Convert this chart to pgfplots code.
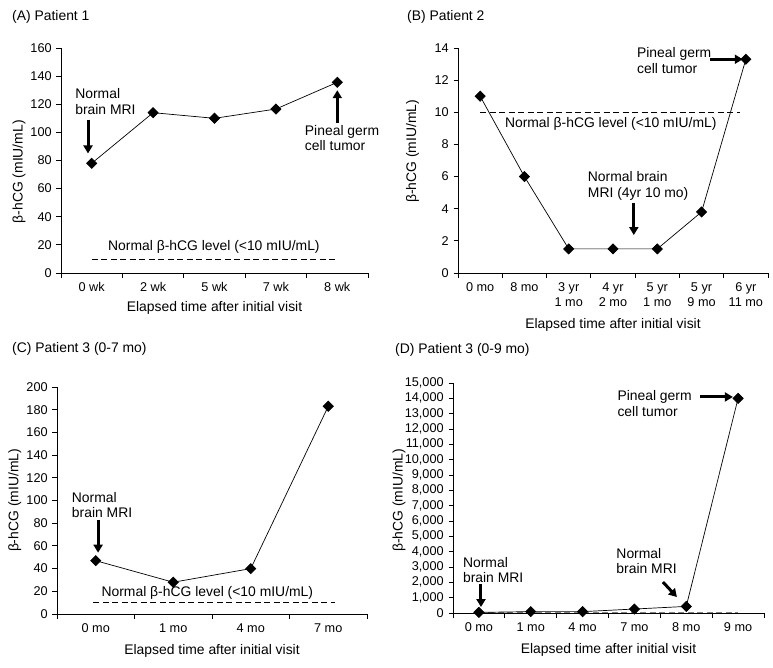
\documentclass[border=0pt]{standalone}
\usepackage{fontspec}
\setmainfont{Liberation Sans}
\usepackage{pgfplots}
\pgfplotsset{compat=1.18}
\usetikzlibrary{arrows.meta}
\pgfplotsset{
  base/.style={
    scale only axis, clip=false,
    axis lines=left, axis line style={-, line width=0.9bp},
    tick align=outside,
    major x tick style={draw=none},
    minor x tick style={black, line width=0.9bp},
    y tick style={black, line width=0.9bp},
    major tick length=4.5bp, minor tick length=5bp,
    xmin=0, ymin=0,
    /pgf/number format/assume math mode=true,
    xticklabel style={align=center, font=\fontsize{12.7bp}{15.7bp}\selectfont},
    yticklabel style={font=\fontsize{12.7bp}{15.7bp}\selectfont},
    label style={font=\fontsize{13.9bp}{15.7bp}\selectfont},
    ylabel={β-hCG (mIU/mL)},
    xlabel={Elapsed time after initial visit},
  },
  ylpos/.style 2 args={ylabel style={at={(axis description cs:#1,#2)}, anchor=south, inner sep=0pt}},
  ser/.style={black, line width=0.7bp, mark=square*, mark size=3.6bp, mark options={solid, rotate=45}},
  nl/.style={black, line width=0.8bp, dash pattern=on 6bp off 3.5bp},
}
\tikzset{bigarrow/.style={line width=3bp, -{Triangle[length=8bp,width=9bp]}},
  ann/.style={align=left, font=\fontsize{13.9bp}{15.7bp}\selectfont, inner sep=0pt}}
\begin{document}
\begin{tikzpicture}
\useasboundingbox (0,0) rectangle (773bp,-668bp);
\fontsize{13.9bp}{15.7bp}\selectfont
\node[anchor=west, inner sep=0pt] at (12bp,-17bp) {(A) Patient 1};
\node[anchor=west, inner sep=0pt] at (407bp,-17bp) {(B) Patient 2};
\node[anchor=west, inner sep=0pt] at (12bp,-349bp) {(C) Patient 3 (0-7 mo)};
\node[anchor=west, inner sep=0pt] at (395bp,-350bp) {(D) Patient 3 (0-9 mo)};

% (A)
\begin{axis}[base, at={(61bp,-273bp)}, anchor=south west, width=307bp, height=225bp,
  xmax=5, ymax=160, ytick={0,20,...,160}, minor xtick={0,1,...,5},
  ylpos={-0.115}{0.45},
  xtick={0.5,1.5,2.5,3.5,4.5}, xticklabels={0 wk,2 wk,5 wk,7 wk,8 wk}]
\addplot[nl] coordinates {(0.5,10) (4.46,10)};
\addplot[ser] coordinates {(0.5,78) (1.5,114) (2.5,110) (3.5,116.6) (4.5,135.6)};
\node[ann, anchor=west] at (axis cs:0.23,122) {Normal\\brain MRI};
\draw[bigarrow] (axis cs:0.44,109) -- (axis cs:0.44,85);
\node[ann, anchor=west] at (axis cs:3.97,96) {Pineal germ\\cell tumor};
\draw[bigarrow] (axis cs:4.5,106.5) -- (axis cs:4.5,130);
\node[ann] at (axis cs:2.49,18.5) {Normal β-hCG level (<10 mIU/mL)};
\end{axis}

% (B)
\begin{axis}[base, at={(458bp,-273bp)}, anchor=south west, width=310bp, height=225bp,
  xmax=7, ymax=14, ytick={0,2,...,14}, minor xtick={0,1,...,7},
  xlabel shift=2bp, ylpos={-0.125}{0.54},
  xtick={0.5,1.5,2.5,3.5,4.5,5.5,6.5},
  xticklabels={0 mo,8 mo,3 yr\\1 mo,4 yr\\2 mo,5 yr\\1 mo,5 yr\\9 mo,6 yr\\11 mo}]
\addplot[nl] coordinates {(0.5,10) (6.37,10)};
\addplot[ser] coordinates {(0.5,11.0) (1.5,6.0) (2.5,1.5) (3.5,1.5) (4.5,1.5) (5.5,3.8) (6.5,13.3)};
\node[ann, anchor=west] at (axis cs:4.04,13.22) {Pineal germ\\cell tumor};
\draw[bigarrow] (axis cs:5.69,13.3) -- (axis cs:6.43,13.3);
\node[ann] at (axis cs:3.45,9.25) {Normal β-hCG level (<10 mIU/mL)};
\node[ann, anchor=west] at (axis cs:2.93,5.41) {Normal brain\\MRI (4yr 10 mo)};
\draw[bigarrow] (axis cs:3.97,4.36) -- (axis cs:3.97,2.36);
\end{axis}

% (C)
\begin{axis}[base, at={(57bp,-614bp)}, anchor=south west, width=310bp, height=227bp,
  xmax=4, ymax=200, ytick={0,20,...,200}, minor xtick={0,1,...,4},
  ylpos={-0.115}{0.5}, xlabel shift=3bp,
  xtick={0.5,1.5,2.5,3.5}, xticklabels={0 mo,1 mo,4 mo,7 mo}]
\addplot[nl] coordinates {(0.47,10) (3.59,10)};
\addplot[ser] coordinates {(0.5,47) (1.5,28) (2.5,40) (3.5,183)};
\node[ann, anchor=west] at (axis cs:0.19,96) {Normal\\brain MRI};
\draw[bigarrow] (axis cs:0.53,83) -- (axis cs:0.53,54);
\node[ann] at (axis cs:1.94,18.5) {Normal β-hCG level (<10 mIU/mL)};
\end{axis}

% (D)
\begin{axis}[base, at={(453bp,-613bp)}, anchor=south west, width=311bp, height=230bp,
  xmax=6, ymax=15000, ytick={0,1000,...,15000}, minor xtick={0,1,...,6},
  scaled y ticks=false, ylpos={-0.152}{0.49}, xlabel shift=3bp,
  yticklabel style={/pgf/number format/1000 sep={,}},
  xtick={0.5,1.5,2.5,3.5,4.5,5.5}, xticklabels={0 mo,1 mo,4 mo,7 mo,8 mo,9 mo}]
\addplot[nl, gray] coordinates {(0.5,10) (5.5,10)};
\addplot[ser] coordinates {(0.5,40) (1.5,90) (2.5,90) (3.5,260) (4.5,430) (5.5,14000)};
\node[ann, anchor=west] at (axis cs:3.17,13670) {Pineal germ\\cell tumor};
\draw[bigarrow] (axis cs:4.77,14090) -- (axis cs:5.4,14090);
\node[ann, anchor=west] at (axis cs:0.19,2800) {Normal\\brain MRI};
\draw[bigarrow] (axis cs:0.54,1890) -- (axis cs:0.54,390);
\node[ann, anchor=west] at (axis cs:3.15,3390) {Normal\\brain MRI};
\draw[bigarrow] (axis cs:4.05,2020) -- (axis cs:4.32,1040);
\end{axis}
\end{tikzpicture}
\end{document}
